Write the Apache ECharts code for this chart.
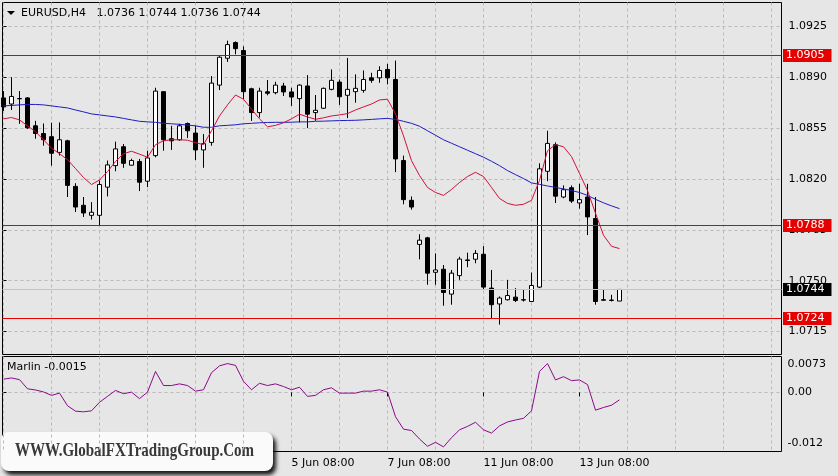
<!DOCTYPE html>
<html><head><meta charset="utf-8">
<script src="https://cdn.jsdelivr.net/npm/echarts/dist/echarts.min.js"></script>
<style>html,body{margin:0;padding:0;background:#e6e6e6}#c{width:838px;height:476px}</style>
</head><body><div id="c"></div><script>
const symbol = 'EURUSD,H4';
const days = ['28 May','29 May','30 May','31 May','1 Jun','4 Jun','5 Jun','6 Jun','7 Jun','8 Jun','11 Jun','12 Jun','13 Jun','14 Jun'];
const hours = ['00:00','04:00','08:00','12:00','16:00','20:00'];
const firstBar = '28 May 08:00';

const openP = [1.08758,1.08716,1.08754,1.08758,1.08566,1.08513,1.08491,1.08383,1.08463,1.08149,
 1.08019,1.07950,1.07950,1.08144,1.08292,1.08422,1.08295,1.08320,1.08185,1.08361,
 1.08801,1.08477,1.08470,1.08582,1.08516,1.08400,1.08452,1.08846,1.09031,1.09139,
 1.09084,1.08821,1.08657,1.08800,1.08794,1.08840,1.08799,1.08753,1.08840,1.08657,
 1.08687,1.08817,1.08867,1.08776,1.08801,1.08810,1.08896,1.08896,1.08954,1.08885,
 1.08327,1.08053,1.07750,1.07795,1.07558,1.07579,1.07408,1.07535,1.07643,1.07648,
 1.07682,1.07449,1.07340,1.07369,1.07387,1.07369,1.07357,1.07456,1.08253,1.08436,
 1.08076,1.08140,1.08035,1.08076,1.07928,1.07369,1.07364,1.0736];
const closeP = [1.08696,1.08768,1.08752,1.08552,1.08513,1.08470,1.08377,1.08470,1.08156,1.08007,
 1.07966,1.07971,1.08162,1.08297,1.08407,1.08308,1.08327,1.08178,1.08345,1.08805,
 1.08470,1.08463,1.08566,1.08532,1.08400,1.08443,1.08860,1.09038,1.09125,1.09097,
 1.08801,1.08657,1.08805,1.08790,1.08846,1.08799,1.08764,1.08846,1.08646,1.08673,
 1.08824,1.08879,1.08766,1.08817,1.08824,1.08885,1.08879,1.08947,1.08896,1.08338,
 1.08058,1.08007,1.07779,1.07552,1.07574,1.07419,1.07552,1.07649,1.07639,1.07688,
 1.07456,1.07335,1.07381,1.07398,1.07364,1.07367,1.07467,1.08270,1.08445,1.08082,
 1.08126,1.08048,1.08058,1.07939,1.07357,1.07366,1.07367,1.0744];
const lowP = [1.08669,1.08675,1.08580,1.08545,1.08477,1.08429,1.08292,1.08361,1.08076,1.07973,
 1.07939,1.07921,1.07882,1.08080,1.08253,1.08277,1.08292,1.08117,1.08144,1.08349,
 1.08395,1.08400,1.08463,1.08482,1.08331,1.08277,1.08429,1.08812,1.09006,1.09058,
 1.08749,1.08600,1.08623,1.08776,1.08783,1.08771,1.08703,1.08589,1.08550,1.08600,
 1.08682,1.08810,1.08710,1.08619,1.08725,1.08794,1.08862,1.08862,1.08851,1.08247,
 1.08026,1.07989,1.07647,1.07472,1.07472,1.07328,1.07335,1.07506,1.07593,1.07620,
 1.07437,1.07237,1.07198,1.07364,1.07353,1.07357,1.07353,1.07449,1.08185,1.08035,
 1.08067,1.08035,1.07996,1.07814,1.07335,1.07364,1.07357,1.0736];
const highP = [1.08805,1.08901,1.08805,1.08764,1.08600,1.08582,1.08587,1.08589,1.08470,1.08171,
 1.08076,1.08041,1.08190,1.08327,1.08457,1.08441,1.08340,1.08338,1.08395,1.08828,
 1.08805,1.08566,1.08580,1.08589,1.08566,1.08509,1.08908,1.09045,1.09152,1.09147,
 1.09113,1.08828,1.08828,1.08881,1.08869,1.08862,1.08828,1.08851,1.08915,1.08778,
 1.08829,1.08954,1.08885,1.09033,1.08920,1.08947,1.08931,1.08976,1.08992,1.09015,
 1.08361,1.08080,1.07820,1.07802,1.07688,1.07608,1.07574,1.07665,1.07693,1.07711,
 1.07738,1.07574,1.07392,1.07506,1.07449,1.07442,1.07556,1.08308,1.08532,1.08452,
 1.08156,1.08156,1.08167,1.08167,1.08076,1.07442,1.07403,1.0744];
const maSlow = [1.08703,1.08706,1.08710,1.08713,1.08713,1.08710,1.08703,1.08696,1.08689,1.08675,
 1.08662,1.08648,1.08641,1.08634,1.08627,1.08617,1.08607,1.08597,1.08593,1.08590,
 1.08583,1.08580,1.08576,1.08571,1.08566,1.08556,1.08556,1.08566,1.08569,1.08573,
 1.08580,1.08583,1.08587,1.08589,1.08590,1.08590,1.08591,1.08593,1.08593,1.08597,
 1.08598,1.08600,1.08602,1.08603,1.08604,1.08607,1.08610,1.08614,1.08617,1.08610,
 1.08597,1.08583,1.08563,1.08532,1.08501,1.08470,1.08446,1.08422,1.08398,1.08374,
 1.08350,1.08322,1.08292,1.08258,1.08230,1.08203,1.08173,1.08163,1.08152,1.08142,
 1.08132,1.08121,1.08107,1.08087,1.08060,1.08036,1.08015,1.07996];
const maFast = [1.08614,1.08623,1.08607,1.08566,1.08525,1.08470,1.08412,1.08374,1.08333,1.08272,
 1.08210,1.08162,1.08193,1.08251,1.08320,1.08374,1.08391,1.08371,1.08350,1.08436,
 1.08463,1.08470,1.08470,1.08467,1.08450,1.08436,1.08532,1.08634,1.08710,1.08778,
 1.08749,1.08682,1.08614,1.08559,1.08569,1.08587,1.08614,1.08646,1.08627,1.08611,
 1.08621,1.08634,1.08641,1.08650,1.08675,1.08696,1.08716,1.08744,1.08749,1.08648,
 1.08497,1.08326,1.08224,1.08142,1.08107,1.08087,1.08128,1.08176,1.08217,1.08246,
 1.08217,1.08142,1.08066,1.08032,1.08019,1.08026,1.08053,1.08190,1.08395,1.08436,
 1.08422,1.08354,1.08238,1.08121,1.07964,1.07813,1.07737,1.07721];
const marlin = [0.0027,0.00294,0.0026,0.00074,0.0005,0.0001,-0.0006,-0.00014,-0.0027,-0.0038,
 -0.00394,-0.00374,-0.002,-0.0008,0.0004,-0.00026,0.00006,-0.00126,0.00006,0.00426,
 0.0014,0.0014,0.00174,0.0014,0.00026,0.00054,0.004,0.0054,0.00586,0.0055,
 0.00226,0.00054,0.00186,0.0014,0.00174,0.0012,0.00054,0.00106,-0.0008,-0.0006,
 0.00054,0.00094,-0.00014,-0.00014,-0.00014,0.00026,0.00026,0.00054,0.00006,-0.00494,
 -0.00746,-0.00774,-0.00946,-0.01094,-0.01014,-0.01106,-0.0092,-0.0076,-0.0069,-0.00606,
 -0.0076,-0.00826,-0.0068,-0.006,-0.0056,-0.00526,-0.00374,0.00426,0.00586,0.00254,
 0.0032,0.0024,0.00254,0.0016,-0.0036,-0.00306,-0.0026,-0.0015];

const priceTicks = [1.0715,1.0750,1.0785,1.0820,1.0855,1.0890,1.0925];
const levelLines = [1.0905,1.0788,1.0724];
const lastPrice = 1.0744;
const timeTicks = ['5 Jun 08:00','7 Jun 08:00','11 Jun 08:00','13 Jun 08:00'];
const marlinTicks = [0.0073, 0, -0.012];
const marlinTickLabels = ['0.0073','0.00','-0.012'];

const allTimes = days.flatMap(d => hours.map(h => d + ' ' + h));
const start = allTimes.indexOf(firstBar);
const times = allTimes.slice(start, start + openP.length);
const tickIdx = timeTicks.map(t => times.indexOf(t));
const dayIdx = [];
for (let k = 0; k <= 97; k += 6) dayIdx.push(k);

const FONT = 'DejaVu Sans';
const n = openP.length - 1;
const X_MIN = -0.125, X_MAX = 97.25;
const Y_MIN = 1.069922, Y_MAX = 1.094146;
const grid0 = {left: 2.5, top: 2.5, width: 779, height: 352};
const grid1 = {left: 2.5, top: 356.5, width: 779, height: 95};
const dash = {color: '#b9b9b9', type: [3, 3], width: 1};
const LEVEL_RED = '#e60000';

const chart = echarts.init(document.getElementById('c'), null, {renderer: 'canvas'});
const baseX = {type: 'value', min: X_MIN, max: X_MAX, axisLine: {show: false}};
const boxLabel = (bg) => ({
  show: true, position: 'end', distance: 1.5,
  formatter: p => Number(p.value).toFixed(4),
  color: '#fff', backgroundColor: bg, fontFamily: FONT, fontSize: 11,
  lineHeight: 12, padding: [1, 7, 0, 3]
});
chart.setOption({
  animation: false,
  backgroundColor: '#e6e6e6',
  grid: [
    Object.assign({show: true, borderColor: '#000', borderWidth: 1, backgroundColor: 'transparent', containLabel: false, outerBoundsMode: 'none'}, grid0),
    Object.assign({show: true, borderColor: '#000', borderWidth: 1, backgroundColor: 'transparent', containLabel: false, outerBoundsMode: 'none'}, grid1)
  ],
  xAxis: [
    Object.assign({}, baseX, {gridIndex: 0, axisTick: {show: false, customValues: dayIdx},
      axisLabel: {show: false}, splitLine: {show: true, lineStyle: dash}}),
    Object.assign({}, baseX, {gridIndex: 1,
      axisTick: {show: true, customValues: tickIdx, length: 4, lineStyle: {color: '#000'}},
      axisLabel: {show: true, customValues: tickIdx, formatter: v => times[Math.round(v)] || '',
        align: 'left', margin: 6, color: '#000', fontFamily: FONT, fontSize: 11},
      splitLine: {show: false}}),
    Object.assign({}, baseX, {gridIndex: 1, axisTick: {show: false, customValues: dayIdx},
      axisLabel: {show: false}, splitLine: {show: true, lineStyle: dash}})
  ],
  yAxis: [
    {gridIndex: 0, type: 'value', position: 'right', min: Y_MIN, max: Y_MAX,
      axisLine: {show: false},
      axisTick: {show: true, customValues: priceTicks, length: 3, lineStyle: {color: '#000'}},
      axisLabel: {customValues: priceTicks, formatter: v => v.toFixed(4), margin: 7,
        color: '#000', fontFamily: FONT, fontSize: 11, showMinLabel: true, showMaxLabel: true},
      splitLine: {show: true, lineStyle: dash}},
    {gridIndex: 1, type: 'value', position: 'right', min: -0.012, max: 0.0073,
      axisLine: {show: false},
      axisTick: {show: true, customValues: [0], length: 3, lineStyle: {color: '#000'}},
      axisLabel: {customValues: marlinTicks, margin: 6, color: '#000', fontFamily: FONT, fontSize: 11,
        showMinLabel: true, showMaxLabel: true,
        formatter: v => {
          const k = marlinTicks.findIndex(t => Math.abs(t - v) < 1e-9);
          const txt = k >= 0 ? marlinTickLabels[k] : '';
          if (k === 0) return '{dn|' + txt + '}';
          if (k === 2) return '{up|' + txt + '}';
          return txt;
        },
        rich: {
          dn: {padding: [16, 0, 0, 0], fontFamily: FONT, fontSize: 11, color: '#000'},
          up: {padding: [0, 0, 16, 0], fontFamily: FONT, fontSize: 11, color: '#000'}
        }},
      splitLine: {show: true, lineStyle: dash}}
  ],
  series: [
    {type: 'candlestick', xAxisIndex: 0, yAxisIndex: 0, barWidth: 4, z: 2,
      dimensions: ['idx', 'open', 'close', 'lowest', 'highest'],
      encode: {x: 'idx', y: ['open', 'close', 'lowest', 'highest']},
      data: openP.map((o, i) => [i, o, closeP[i], lowP[i], highP[i]]),
      itemStyle: {color: '#ffffff', color0: '#000000', borderColor: '#000000', borderColor0: '#000000',
        borderColorDoji: '#000000', borderWidth: 1},
      emphasis: {disabled: true}, silent: true},
    {type: 'line', xAxisIndex: 0, yAxisIndex: 0, z: 3, clip: false, showSymbol: false, silent: true,
      data: maSlow.map((v, i) => [i, v]), lineStyle: {color: '#1e1ebe', width: 1},
      markLine: {silent: true, symbol: ['none', 'none'], animation: false, precision: 5,
        lineStyle: {color: LEVEL_RED, width: 1, type: 'solid', opacity: 1},
        label: boxLabel(LEVEL_RED),
        emphasis: {disabled: true},
        data: levelLines.map(v => ({yAxis: v, lineStyle: {color: LEVEL_RED, width: 1, type: 'solid', opacity: 1}, label: boxLabel(LEVEL_RED)}))
          .concat([{yAxis: lastPrice, lineStyle: {color: '#c4c4c4', width: 1, type: 'solid'},
            label: boxLabel('#000000')}])}},
    {type: 'line', xAxisIndex: 0, yAxisIndex: 0, z: 3, showSymbol: false, silent: true,
      data: maFast.map((v, i) => [i, v]), lineStyle: {color: '#d0123c', width: 1}},
    {type: 'line', xAxisIndex: 1, yAxisIndex: 1, z: 3, showSymbol: false, silent: true,
      data: marlin.map((v, i) => [i, v]), lineStyle: {color: '#8a0a8a', width: 1}}
  ],
  graphic: [
    {type: 'polygon', shape: {points: [[7, 11], [15, 11], [11, 15]]}, style: {fill: '#000'}},
    {type: 'text', x: 21, y: 13, style: {
      text: symbol + '   ' + [openP[n], highP[n], lowP[n], closeP[n]].map(v => v.toFixed(4)).join(' '),
      font: '11px "' + FONT + '"', fill: '#000', verticalAlign: 'middle'}},
    {type: 'text', x: 7, y: 367, style: {
      text: 'Marlin ' + marlin[n].toFixed(4),
      font: '11px "' + FONT + '"', fill: '#000', verticalAlign: 'middle'}},
    {type: 'group', z: 100, children: [
      {type: 'rect', shape: {x: 1, y: 432, width: 272, height: 39, r: 8},
        style: {fill: '#fafafa', shadowColor: 'rgba(0,0,0,0.9)', shadowBlur: 4, shadowOffsetX: 3, shadowOffsetY: 4}},
      {type: 'text', x: 15, y: 451, scaleX: 0.79, style: {
        text: 'WWW.GlobalFXTradingGroup.Com', font: 'bold 19px "Liberation Serif"', fill: '#383838',
        verticalAlign: 'middle', shadowColor: 'rgba(0,0,0,0.8)', shadowBlur: 3, shadowOffsetX: 1, shadowOffsetY: 2}}
    ]}
  ]
});
</script></body></html>
